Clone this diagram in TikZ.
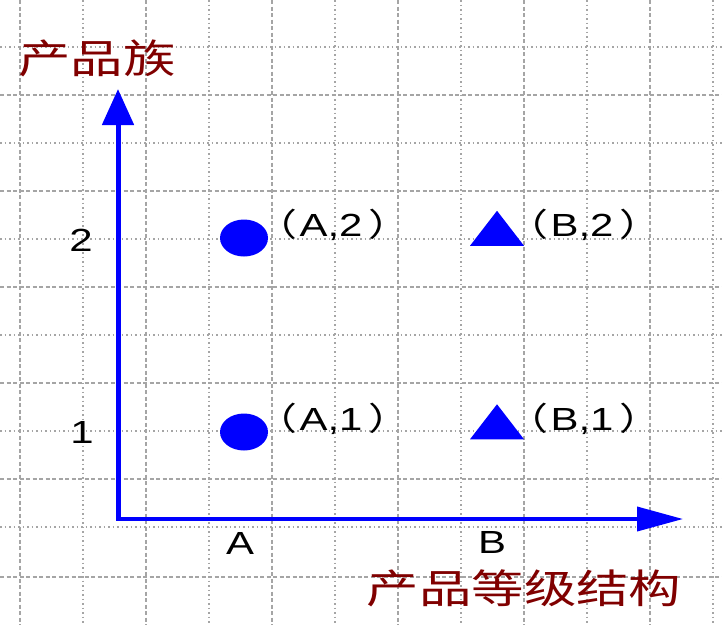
\documentclass[tikz,border=0pt]{standalone}
\usepackage{fontspec}
\setmainfont{Liberation Sans}[FakeStretch=1.31]
\newfontfamily\cjk{Noto Sans CJK SC}[FakeStretch=1.31]
\usetikzlibrary{arrows.meta, shapes.geometric}
\definecolor{titlered}{RGB}{128,0,0}
\definecolor{gridgray}{RGB}{165,165,165}
\newcommand{\lpar}{{\cjk （}\kern2pt}
\newcommand{\rpar}{\kern6pt{\cjk ）}}

\begin{document}
\begin{tikzpicture}[x=1pt, y=-1pt,
		griddash/.style={gridgray, line width=1.5pt, dash pattern=on 4pt off 2.5pt},
		griddot/.style={gridgray, line width=1.5pt, dash pattern=on 1.5pt off 3pt},
		axis/.style={blue, line width=4pt},
		circ/.style={ellipse, fill=blue, inner sep=0pt, minimum width=48pt, minimum height=37pt},
		tri/.style={isosceles triangle, isosceles triangle stretches, shape border rotate=90, fill=blue, inner sep=0pt, minimum width=54pt, minimum height=35pt},
		ticktext/.style={font=\fontsize{32}{32}\selectfont, inner sep=0pt},
		pointtext/.style={font=\fontsize{32}{32}\selectfont, inner sep=0pt, anchor=base},
		axtitle/.style={font=\fontsize{40}{40}\selectfont\cjk, text=titlered, inner sep=0pt}]
		\useasboundingbox (0, 0) rectangle (722, 625);
		
		% grid
		\foreach \x in {20, 146, 272, 398, 524, 650}
			\draw[griddash] (\x, 0) -- (\x, 625);
		\foreach \x in {83, 209, 335, 461, 587, 713}
			\draw[griddot] (\x, 0) -- (\x, 625);
		\foreach \y in {47, 143, 239, 335, 431, 527}
			\draw[griddot] (0, \y) -- (722, \y);
		\foreach \y in {95, 191, 287, 383, 479, 577}
			\draw[griddash] (0, \y) -- (722, \y);
		
		% axes
		\coordinate (o) at (118, 519);
		\coordinate (ytop) at (118, 89);
		\coordinate (xend) at (683, 519);
		\draw[axis, line width=5pt, -{Triangle[length=36pt, width=31pt]}] (o) -- (ytop);
		\draw[axis, line width=3.8pt, line cap=rect, -{Triangle[length=46pt, width=24pt]}] (o) -- (xend);
		
		\node[axtitle] (ytitle) at (97, 58) {产品族};
		\node[axtitle] (xtitle) at (524, 588) {产品等级结构};
		
		\node[ticktext] (t2) at (81, 240) {2};
		\node[ticktext] (t1) at (82, 432) {1};
		\node[ticktext] (tA) at (240, 543) {A};
		\node[ticktext] (tB) at (492, 542) {B};
		
		% points
		\node[circ] (A2) at (244, 238) {};
		\node[circ] (A1) at (244, 432) {};
		\node[tri] (B2) at (497, 232.5) {};
		\node[tri] (B1) at (497, 426) {};
		
		\node[pointtext] (lA2) at (333, 236) {\lpar A,2\rpar};
		\node[pointtext] (lB2) at (584, 236) {\lpar B,2\rpar};
		\node[pointtext] (lA1) at (333, 430) {\lpar A,1\rpar};
		\node[pointtext] (lB1) at (584, 430) {\lpar B,1\rpar};
	\end{tikzpicture}
\end{document}
